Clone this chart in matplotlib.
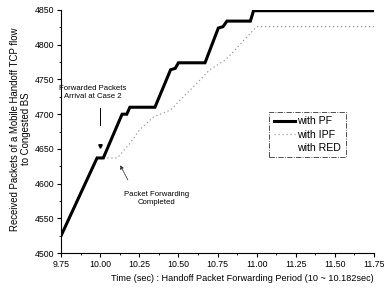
import matplotlib
matplotlib.use("Agg")
import matplotlib.pyplot as plt
from matplotlib.lines import Line2D
from matplotlib.ticker import MultipleLocator

plt.rcParams['font.family'] = ['Liberation Sans', 'DejaVu Sans']

pf_t = [9.75, 9.98, 10.02, 10.14, 10.17, 10.19, 10.35, 10.45, 10.48, 10.50, 10.67,
        10.755, 10.785, 10.81, 10.96, 10.98, 11.75]
pf_v = [4525, 4637, 4637, 4700, 4700, 4710, 4710, 4764, 4766, 4774, 4774,
        4824, 4826, 4834, 4834, 4849, 4849]

ipf_t = [9.75, 9.98, 10.02, 10.11, 10.19, 10.25, 10.34, 10.45, 10.51, 10.62, 10.70,
         10.80, 10.86, 10.92, 11.00, 11.75]
ipf_v = [4525, 4637, 4637, 4637, 4658, 4677, 4696, 4706, 4720, 4745, 4764,
         4778, 4792, 4807, 4826, 4826]

x_ticks = [9.75, 10.00, 10.25, 10.50, 10.75, 11.00, 11.25, 11.50, 11.75]
x_labels = ['9.75', '10.00', '10.25', '10.50', '10.75', '11.00', '11.25', '11.50', '11.75']
y_ticks = [4500, 4550, 4600, 4650, 4700, 4750, 4800, 4850]

fig = plt.figure(figsize=(3.84, 2.94), dpi=100)
ax = fig.add_axes([0.159, 0.139, 0.815, 0.827])

ax.plot(ipf_t, ipf_v, color='#999999', lw=0.9, ls=(0, (1, 2.2)))
ax.plot(pf_t, pf_v, color='black', lw=2.2, solid_joinstyle='miter')

ax.set_xlim(9.75, 11.75)
ax.set_ylim(4500, 4850)
ax.set_xticks(x_ticks)
ax.set_xticklabels(x_labels)
ax.set_yticks(y_ticks)
ax.xaxis.set_minor_locator(MultipleLocator(0.125))
ax.yaxis.set_minor_locator(MultipleLocator(25))
ax.spines['top'].set_visible(False)
ax.spines['right'].set_visible(False)
ax.tick_params(axis='both', which='major', labelsize=6.3, length=3, width=0.8, direction='out', pad=2)
ax.tick_params(axis='both', which='minor', length=1.5, width=0.6, direction='out')

ax.set_xlabel('Time (sec) : Handoff Packet Forwarding Period (10 ~ 10.182sec)', fontsize=6.6)
ax.xaxis.set_label_coords(0.578, -0.085)
ax.set_ylabel('Received Packets of a Mobile Handoff TCP flow\nto Congested BS', fontsize=6.9, linespacing=1.2)
ax.yaxis.set_label_coords(-0.095, 0.51)

ax.text(9.95, 4731, 'Forwarded Packets\nArrival at Case 2', fontsize=5.6, ha='center', va='center', linespacing=1.3)
ax.plot([10.0, 10.0], [4684, 4709], color='black', lw=0.7)
ax.plot([10.0], [4654], marker='v', ms=2.5, color='black')

ax.text(10.36, 4579, 'Packet Forwarding\nCompleted', fontsize=5.6, ha='center', va='center', linespacing=1.3)
ax.annotate('', xy=(10.12, 4630), xytext=(10.185, 4602),
            arrowprops=dict(arrowstyle='-|>', lw=0.6, ls=(0, (2, 1)), color='#333333', mutation_scale=5))

handles = [Line2D([], [], color='black', lw=2.2),
           Line2D([], [], color='#999999', lw=0.9, ls=(0, (1, 2.2))),
           Line2D([], [], color='white', lw=0.9)]
leg = ax.legend(handles, ['with PF', 'with IPF', 'with RED'], loc='upper left',
                bbox_to_anchor=(0.664, 0.582), fontsize=7.6, frameon=True, fancybox=False,
                handlelength=2.0, handletextpad=0.25, labelspacing=0.3, borderpad=0.45,
                borderaxespad=0)
fr = leg.get_frame()
fr.set_edgecolor('black')
fr.set_linewidth(0.6)
fr.set_linestyle('-.')

fig.savefig('out.png', dpi=100)
